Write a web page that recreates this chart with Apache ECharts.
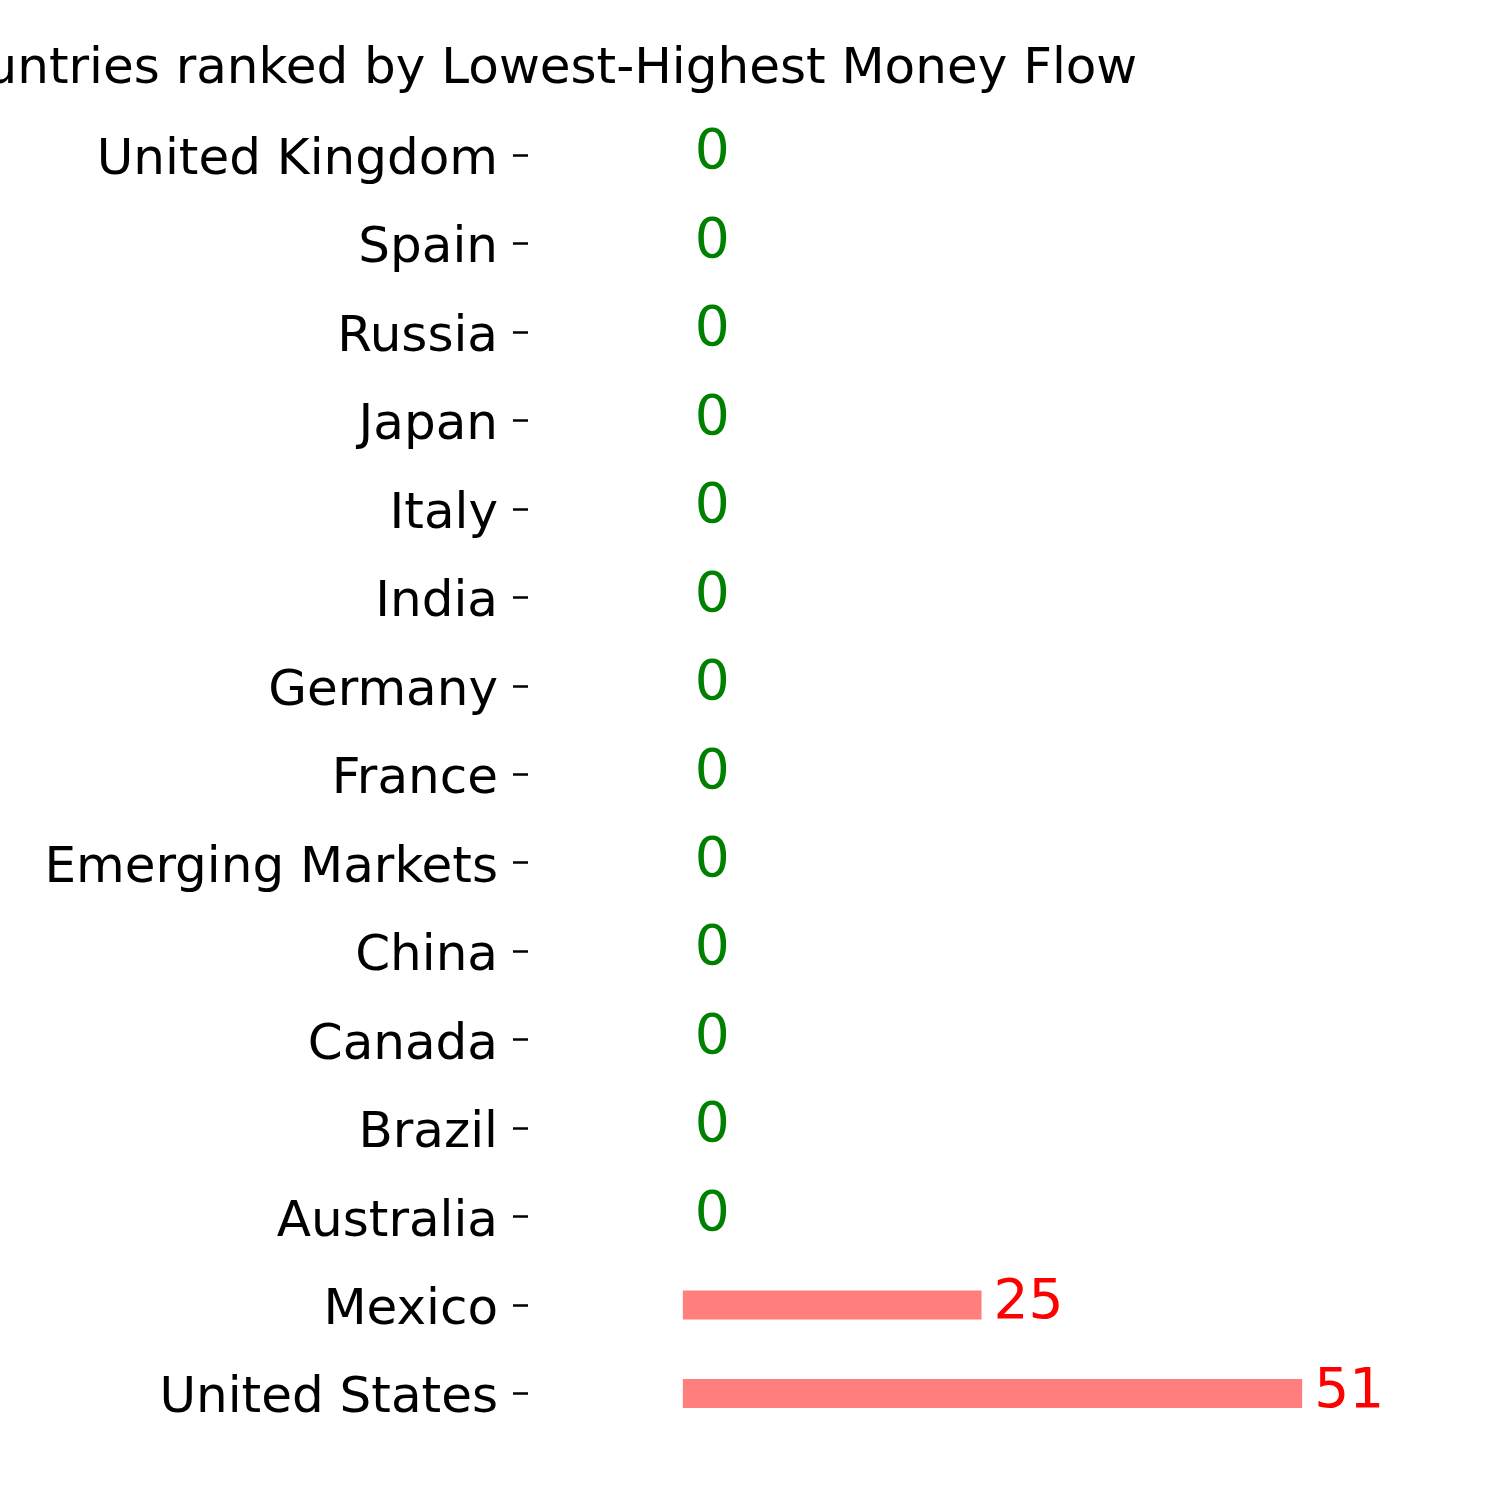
<!DOCTYPE html>
<html>
<head>
<meta charset="utf-8">
<script src="https://cdn.jsdelivr.net/npm/echarts@6/dist/echarts.min.js"></script>
<style>html,body{margin:0;padding:0;background:#fff}#c{width:1500px;height:1500px}</style>
</head>
<body>
<div id="c"></div>
<script>
var titleText = 'Countries ranked by Lowest-Highest Money Flow';
var countries = ['United Kingdom','Spain','Russia','Japan','Italy','India','Germany','France','Emerging Markets','China','Canada','Brazil','Australia','Mexico','United States'];
var flows = [0,0,0,0,0,0,0,0,0,0,0,0,0,24.6,51];

var FONT = 'DejaVu Sans';
var maxVal = 51;
var chart = echarts.init(document.getElementById('c'), null, {renderer:'canvas'});
chart.setOption({
  backgroundColor: '#ffffff',
  animation: false,
  title: {
    text: titleText,
    left: -85,
    top: 40,
    textStyle: {fontFamily: FONT, fontSize: 50, fontWeight: 'normal', color: '#000'}
  },
  grid: {left: 528, right: 74, top: 110.8, bottom: 62.3, containLabel: false},
  xAxis: {
    type: 'value',
    min: -maxVal * 0.25,
    max: maxVal * 1.2,
    show: false
  },
  yAxis: {
    type: 'category',
    inverse: true,
    data: countries,
    axisLine: {show: false, onZero: false},
    axisTick: {show: true, alignWithLabel: true, length: 15, lineStyle: {color: '#000', width: 2.5}},
    axisLabel: {
      margin: 30,
      formatter: function(v){ return '{a|' + v + '}'; },
      rich: {a: {fontFamily: FONT, fontSize: 50, color: '#000', padding: [12, 0, 0, 0]}}
    },
    splitLine: {show: false}
  },
  series: [{
    type: 'bar',
    data: flows.map(function(v){
      return {value: v, label: {color: v === 0 ? '#008000' : '#ff0000'}};
    }),
    barWidth: 29,
    itemStyle: {color: '#ff7f7f'},
    label: {
      show: true,
      position: 'right',
      distance: 12,
      fontFamily: FONT,
      fontSize: 55,
      offset: [0, -1],
      formatter: function(p){ return String(Math.round(p.value)); }
    }
  }]
});
</script>
</body>
</html>
